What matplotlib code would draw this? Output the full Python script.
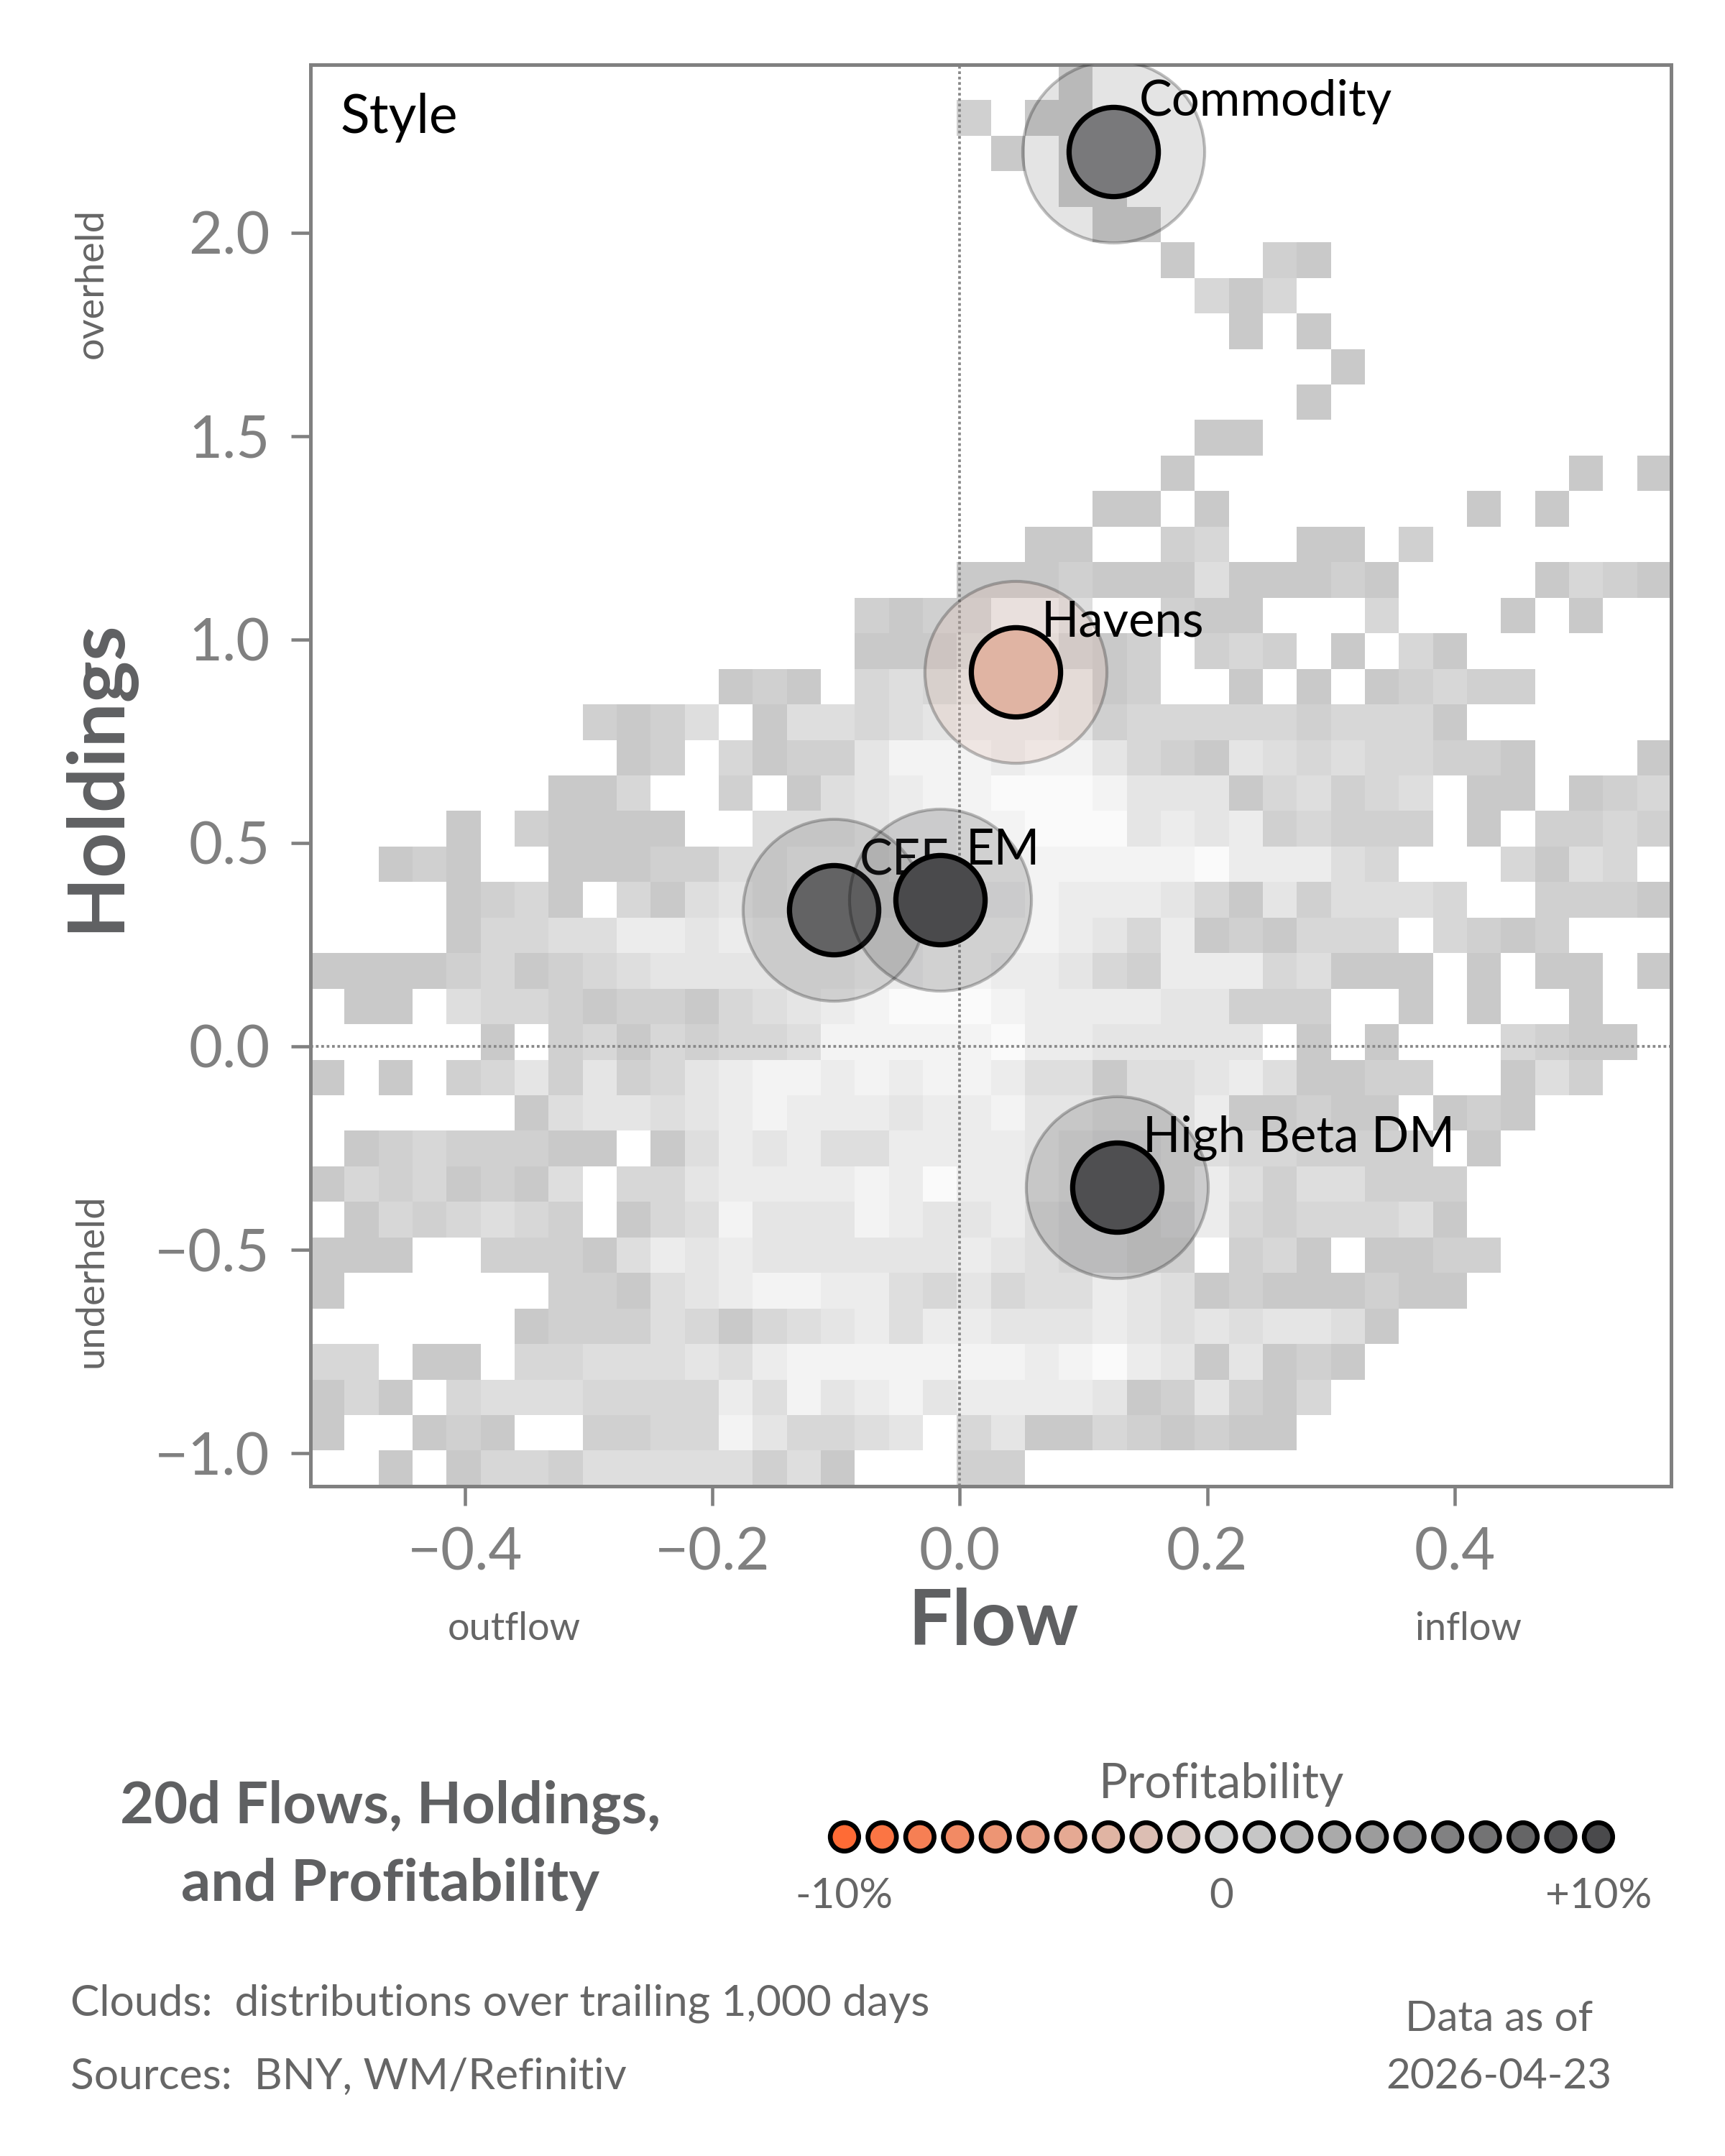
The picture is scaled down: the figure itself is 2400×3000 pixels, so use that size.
import numpy as np
import matplotlib
matplotlib.use('Agg')
import matplotlib.pyplot as plt
from matplotlib.colors import LinearSegmentedColormap, Normalize

plt.rcParams['font.family'] = ['Lato', 'DejaVu Sans']

# data range of the 1,000-day cloud (40 x 40 bins)
flow_range = (-0.525, 0.575)
holdings_range = (-1.081, 2.413)

# cloud density, top row first; '.' = no days, 1..8 = relative day count
cloud_rows = [
    ".........." ".........." "..1......." "..........",
    ".........." ".........2" ".11......." "..........",
    ".........." ".........." "1.1......." "..........",
    ".........." ".........." "..11......" "..........",
    ".........." ".........." "...11....." "..........",
    ".........." ".........." ".....1..21" "..........",
    ".........." ".........." "......313." "..........",
    ".........." ".........." ".......1.1" "..........",
    ".........." ".........." ".........." "1.........",
    ".........." ".........." ".........1" "..........",
    ".........." ".........." "......11.." "..........",
    ".........." ".........." ".....1...." ".......1.1",
    ".........." ".........." "...11.1..." "....1.1...",
    ".........." ".........." ".11..23..1" "1.2.......",
    ".........." ".........1" "1121114111" "21....1321",
    ".........." "......2122" "664..211.." ".3...1.1..",
    ".........." "......1113" "55212.232." "1.31......",
    ".........." "..121.3435" "66512..1.1" ".12322....",
    "........21" "24.1443456" "6652333332" "3331......",
    ".........1" "2.31225777" "6775321543" "433221...1",
    ".......113" "..2.145677" "8887555134" "234.11.123",
    "....1.2111" "1..4445667" "7888565623" "222.1.2232",
    "..121..111" "2244555667" "7777778666" "43...3143.",
    "....1231.3" "1454555566" "6766653152" "4443..2221",
    "....133446" "6565556677" "7765361213" "33.3212...",
    "1111231234" "5555556677" "6653266634" "111.1.11.1",
    ".11.433212" "2134567888" "7666655222" "..1.1..1..",
    ".....1.231" "3233477777" "86655555.1" ".1...3211.",
    "1.1.235252" "3567767677" "6441445641" "122..142..",
    "......1455" "4567666566" "7554446112" "11.121....",
    ".12322211." "1465644666" "6543344332" "222.1.....",
    "13231214.3" "3566667686" "6544346424" "4222......",
    ".1323432.1" "3475557655" "6433236323" "3341......",
    "111..22214" "6565555556" "543322.231" ".1122.....",
    "1......221" "4567766435" "3446541211" "1211......",
    "......1222" "4313456466" "5556545455" "41........",
    "33.11.3344" "4546777777" "7678651512" "1.........",
    "131.344433" "3364756756" "6665125213" "..........",
    "1..121..22" "33753345.3" "511321211." "..........",
    "..1.133244" "444241...2" "2........." "..........",
]

styles = ['Commodity', 'Havens', 'CEE', 'EM', 'High Beta DM']
flows = [0.124, 0.045, -0.102, -0.016, 0.127]
holdings = [2.20, 0.921, 0.335, 0.360, -0.346]
profit = [6.5, -3.0, 8.2, 10.0, 9.6]   # 20d profitability, %

legend_profit = list(range(-10, 11))

grey_text = '#666666'
dark_text = '#5f6062'
tick_grey = '#808080'

fig = plt.figure(figsize=(8, 10), dpi=300)
ax = fig.add_axes([0.18, 0.3107, 0.78875, 0.6593])

# cloud
counts = np.array([[0 if ch == '.' else int(ch) for ch in row] for row in cloud_rows], float)[::-1]
x_edges = np.linspace(flow_range[0], flow_range[1], counts.shape[1] + 1)
y_edges = np.linspace(holdings_range[0], holdings_range[1], counts.shape[0] + 1)
cloud_cmap = LinearSegmentedColormap.from_list('cloud', ['#c9c9c9', '#fafafa'])
ax.pcolormesh(x_edges, y_edges, np.ma.masked_equal(counts, 0), cmap=cloud_cmap,
              vmin=1, vmax=8, zorder=0)
ax.set_xlim(flow_range)
ax.set_ylim(holdings_range)

ax.axvline(0, color='#888888', lw=0.9, ls=(0, (1, 1)), zorder=1)
ax.axhline(0, color='#888888', lw=0.9, ls=(0, (1, 1)), zorder=1)

# points
profit_cmap = LinearSegmentedColormap.from_list('profit', ['#ff6b35', '#d3d3d3', '#4a4a4c'])
norm = Normalize(-10, 10)
z = 3
for name, fx, hy, p in zip(styles, flows, holdings, profit):
    r, g, b, _ = profit_cmap(norm(p))
    ax.scatter(fx, hy, s=3690, facecolor=(r, g, b, 0.2), edgecolor=(0, 0, 0, 0.25),
               linewidths=1.0, zorder=z)
    ax.scatter(fx, hy, s=888, facecolor=(r, g, b), edgecolor='black',
               linewidths=1.75, zorder=z + 1)
    ax.annotate(name, (fx, hy), xytext=(8.6, 11.8), textcoords='offset points',
                ha='left', va='baseline', fontsize=16.5, color='black', zorder=z + 2)
    z += 3

ax.text(0.022, 0.963, 'Style', transform=ax.transAxes, fontsize=18,
        va='center', ha='left', color='black')

# axes styling
ax.set_xticks([-0.4, -0.2, 0.0, 0.2, 0.4])
ax.set_yticks([-1.0, -0.5, 0.0, 0.5, 1.0, 1.5, 2.0])
ax.tick_params(length=6.5, width=1.1, color=tick_grey, labelcolor=tick_grey,
               labelsize=19.5, pad=7)
for sp in ax.spines.values():
    sp.set_color(tick_grey)
    sp.set_linewidth(1.2)

ax.set_xlabel('Flow', fontsize=26, fontweight='bold', color=dark_text)
ax.xaxis.set_label_coords(0.502, -0.096)
ax.xaxis.label.set_va('center')
ax.set_ylabel('Holdings', fontsize=26.5, fontweight='bold', color=dark_text)
ax.yaxis.set_label_coords(-0.157, 0.5)
ax.yaxis.label.set_va('center')

ax.text(0.1495, -0.1006, 'outflow', transform=ax.transAxes, fontsize=13,
        ha='center', va='center', color=grey_text)
ax.text(0.851, -0.1006, 'inflow', transform=ax.transAxes, fontsize=13,
        ha='center', va='center', color=grey_text)
ax.text(-0.161, 0.846, 'overheld', transform=ax.transAxes, fontsize=13, rotation=90,
        ha='center', va='center', color=grey_text)
ax.text(-0.161, 0.1446, 'underheld', transform=ax.transAxes, fontsize=13, rotation=90,
        ha='center', va='center', color=grey_text)

# title block
fig.text(0.2263, 0.144, '20d Flows, Holdings,\nand Profitability', fontsize=19.5,
         fontweight='bold', color=dark_text, ha='center', va='center', linespacing=1.55)

# profitability legend
lax = fig.add_axes([0.4677, 0.098, 0.4808, 0.1])
lax.set_xlim(-11, 11)
lax.set_ylim(-1, 1)
lax.axis('off')
lax.scatter(legend_profit, np.zeros(len(legend_profit)), c=legend_profit,
            cmap=profit_cmap, norm=norm, s=90, edgecolors='black', linewidths=1.6)
lax.text(0, 0.49, 'Profitability', fontsize=16, ha='center', va='center', color=grey_text)
lax.text(-10, -0.55, '-10%', fontsize=14, ha='center', va='center', color=grey_text)
lax.text(0, -0.55, '0', fontsize=14, ha='center', va='center', color=grey_text)
lax.text(10, -0.55, '+10%', fontsize=14, ha='center', va='center', color=grey_text)

# footer
fig.text(0.041, 1 - 2788 / 3000, 'Clouds:  distributions over trailing 1,000 days',
         fontsize=14.5, color=grey_text, ha='left', va='center')
fig.text(0.041, 1 - 2890 / 3000, 'Sources:  BNY, WM/Refinitiv',
         fontsize=14.5, color=grey_text, ha='left', va='center')
fig.text(0.869, 1 - 2810 / 3000, 'Data as of', fontsize=14, color=grey_text,
         ha='center', va='center')
fig.text(0.869, 1 - 2890 / 3000, '2026-04-23', fontsize=14, color=grey_text,
         ha='center', va='center')

fig.savefig('out.png', dpi=300)
